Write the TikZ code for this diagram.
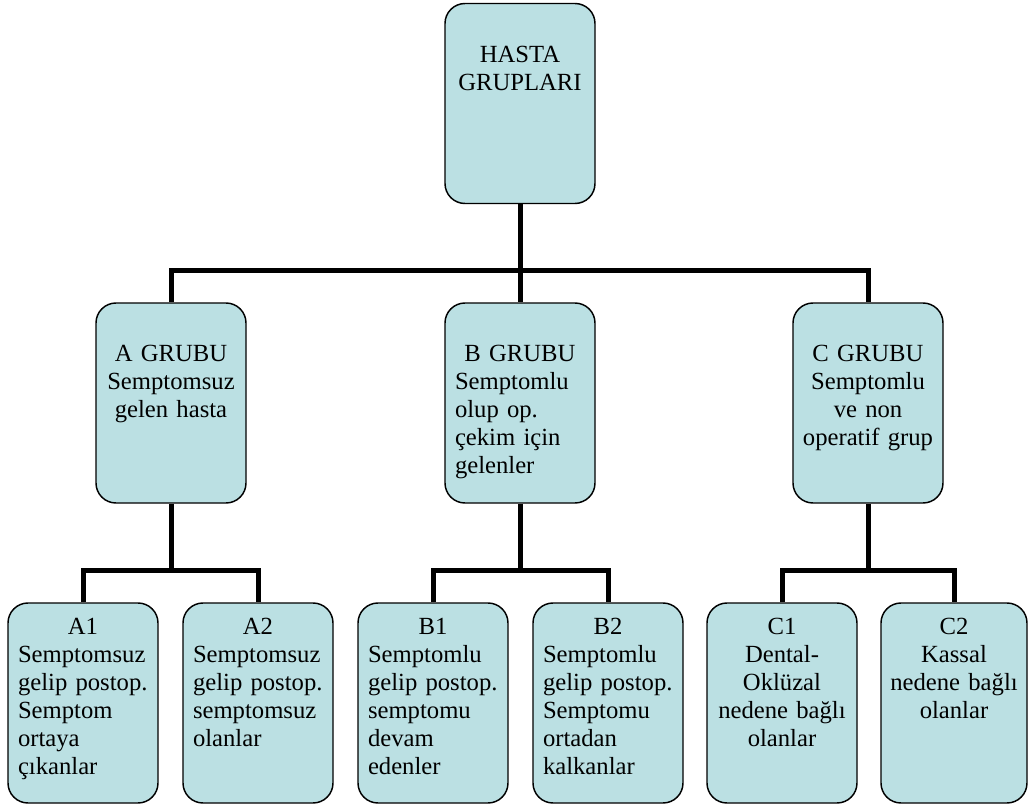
\documentclass[tikz,border=0pt]{standalone}
\usepackage{fontspec}
\setmainfont{Liberation Serif}
\usepackage{tikz}
\usetikzlibrary{calc,positioning}
\definecolor{boxfill}{RGB}{187,224,227}

\begin{document}
\begin{tikzpicture}[x=0.75pt, y=-0.75pt,
        grupbox/.style={draw=black, line width=1.1pt, fill=boxfill, rounded corners=15pt,
            minimum width=112.5pt, minimum height=150pt, inner sep=0pt},
        grupyazi/.style={anchor=north, inner sep=0pt, text width=97.5pt,
            font=\fontsize{18.5}{21}\selectfont},
        ortayazi/.style={grupyazi, text width=108pt, align=center},
        baglanti/.style={line width=3.75pt}]
        \useasboundingbox (0, 0) rectangle (1029, 807);

        \node[grupbox] (hasta) at (520, 103.5) {};
        \node[grupbox] (agrup) at (171, 403) {};
        \node[grupbox] (bgrup) at (520, 403) {};
        \node[grupbox] (cgrup) at (868, 403) {};

        \node[grupbox] (a1) at (83, 703) {};
        \node[grupbox] (a2) at (258, 703) {};
        \node[grupbox] (b1) at (433, 703) {};
        \node[grupbox] (b2) at (608, 703) {};
        \node[grupbox] (c1) at (782, 703) {};
        \node[grupbox, minimum width=109.5pt] (c2) at (954, 703) {};

        \node[ortayazi] (hastat) at ([yshift=-32pt] hasta.north) {HASTA\\GRUPLARI};
        \node[ortayazi] (agrupt) at ([yshift=-32pt] agrup.north) {A GRUBU\\Semptomsuz\\gelen hasta};
        \node[grupyazi, align=left] (bgrupt) at ([yshift=-32pt] bgrup.north) {\makebox[\hsize]{B GRUBU}\\Semptomlu\\olup op.\\çekim için\\gelenler};
        \node[ortayazi] (cgrupt) at ([yshift=-32pt] cgrup.north) {C GRUBU\\Semptomlu\\ve non\\operatif grup};

        \node[grupyazi, align=left] (a1t) at ([yshift=-11.8pt] a1.north) {\makebox[\hsize]{A1}\\Semptomsuz\\gelip postop.\\Semptom\\ortaya\\çıkanlar};
        \node[grupyazi, align=left] (a2t) at ([yshift=-11.8pt] a2.north) {\makebox[\hsize]{A2}\\Semptomsuz\\gelip postop.\\semptomsuz\\olanlar};
        \node[grupyazi, align=left] (b1t) at ([yshift=-11.8pt] b1.north) {\makebox[\hsize]{B1}\\Semptomlu\\gelip postop.\\semptomu\\devam\\edenler};
        \node[grupyazi, align=left] (b2t) at ([yshift=-11.8pt] b2.north) {\makebox[\hsize]{B2}\\Semptomlu\\gelip postop.\\Semptomu\\ortadan\\kalkanlar};
        \node[ortayazi] (c1t) at ([yshift=-11.8pt] c1.north) {C1\\Dental-\\Oklüzal\\nedene bağlı\\olanlar};
        \node[ortayazi] (c2t) at ([yshift=-11.8pt] c2.north) {C2\\Kassal\\nedene bağlı\\olanlar};

        \coordinate (ust) at (520, 270);
        \coordinate (aalt) at (171, 570);
        \coordinate (balt) at (520, 570);
        \coordinate (calt) at (868, 570);

        \draw[baglanti] (hasta.south) -- (bgrup.north);
        \draw[baglanti] (agrup.north) |- (ust) -| (cgrup.north);

        \draw[baglanti] (agrup.south) -- (aalt);
        \draw[baglanti] (a1.north) |- (aalt) -| (a2.north);
        \draw[baglanti] (bgrup.south) -- (balt);
        \draw[baglanti] (b1.north) |- (balt) -| (b2.north);
        \draw[baglanti] (cgrup.south) -- (calt);
        \draw[baglanti] (c1.north) |- (calt) -| (c2.north);
\end{tikzpicture}
\end{document}
